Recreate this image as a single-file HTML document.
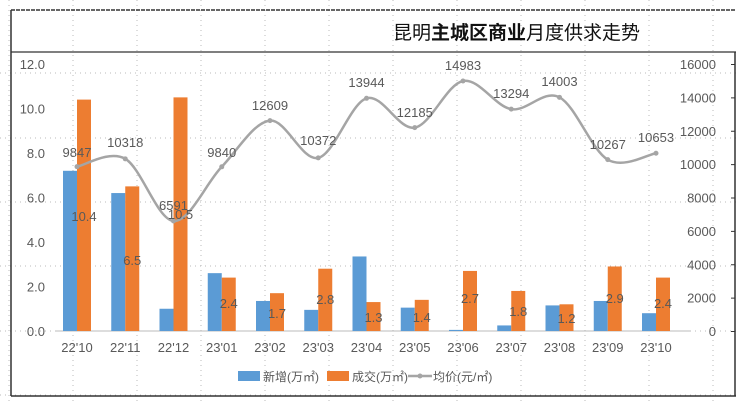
<!DOCTYPE html>
<html><head><meta charset="utf-8"><style>
body{margin:0;background:#fff;width:740px;height:402px;overflow:hidden}
svg{display:block;font-family:"Liberation Sans","Noto Sans CJK SC",sans-serif}
</style></head><body>
<svg id="s" width="740" height="402" xmlns="http://www.w3.org/2000/svg">
<g id="grid" stroke="#bbb" stroke-width="1" stroke-dasharray="1,4"></g>
<line x1="11" y1="10" x2="736" y2="10" stroke="#333" stroke-width="1.5" stroke-dasharray="4,1"/>
<line x1="11" y1="10" x2="11" y2="396" stroke="#333" stroke-width="1.5"/>
<line x1="735" y1="52" x2="735" y2="396" stroke="#333" stroke-width="1.5"/>
<line x1="11" y1="52" x2="736" y2="52" stroke="#333" stroke-width="1.2"/>
<line x1="11" y1="396" x2="736" y2="396" stroke="#333" stroke-width="1.5"/>
<text x="393" y="39" font-size="19" fill="#111">昆明<tspan font-weight="bold">主城区商业</tspan>月度供求走势</text>
<line x1="55" y1="331" x2="690" y2="331" stroke="#bbb" stroke-width="1"/>
<g id="bars"></g><g id="line"></g><g id="lab" font-size="13" fill="#595959"></g>
<g font-size="12" fill="#595959">
<rect x="238" y="371" width="22" height="10" fill="#5b9bd5"/><text x="263" y="381">新增(万㎡)</text>
<rect x="327" y="371" width="22" height="10" fill="#ed7d31"/><text x="352" y="381">成交(万㎡)</text>
<line x1="408" y1="376" x2="432" y2="376" stroke="#a5a5a5" stroke-width="2.5"/><circle cx="420" cy="376" r="2.5" fill="#a5a5a5"/>
<text x="433" y="381">均价(元/㎡)</text>
</g>
</svg>
<script>
var NS="http://www.w3.org/2000/svg",s=document.getElementById('s');
function el(p,t,a,txt){var e=document.createElementNS(NS,t);for(var k in a)e.setAttribute(k,a[k]);if(txt!=null)e.textContent=txt;document.getElementById(p).appendChild(e);return e;}
for(var x=9;x<740;x+=64)el('grid','line',{x1:x,y1:0,x2:x,y2:402});
[73,138,202,266,331,395].forEach(function(y){el('grid','line',{x1:0,y1:y,x2:740,y2:y});});
var cats=["22'10","22'11","22'12","23'01","23'02","23'03","23'04","23'05","23'06","23'07","23'08","23'09","23'10"];
var b=[7.2,6.2,1.0,2.6,1.35,0.95,3.35,1.05,0.05,0.25,1.15,1.35,0.8];
var o=[10.4,6.5,10.5,2.4,1.7,2.8,1.3,1.4,2.7,1.8,1.2,2.9,2.4];
var p=[9847,10318,6591,9840,12609,10372,13944,12185,14983,13294,14003,10267,10653];
var ply=[152,142,205,152,105,140,82,112,65,93,81,144,137];
var oly=[216,260,214,303,313,299,317,317,298,311,318,298,303];
function cx(i){return 77+i*48.25;}
function yl(v){return 331-v*22.25;}
function yr(v){return 331-v/16000*267;}
for(var i=0;i<13;i++){
 var c=cx(i);
 el('bars','rect',{x:c-14,y:yl(b[i]),width:14,height:331-yl(b[i]),fill:'#5b9bd5'});
 el('bars','rect',{x:c,y:yl(o[i]),width:14,height:331-yl(o[i]),fill:'#ed7d31'});
 el('lab','text',{x:c,y:352,'text-anchor':'middle'},cats[i]);
 el('lab','text',{x:c+7,y:oly[i]+5,'text-anchor':'middle'},o[i].toFixed(1));
 el('lab','text',{x:c,y:ply[i]+5,'text-anchor':'middle'},p[i]);
}
for(var k=0;k<=6;k++){el('lab','text',{x:45,y:yl(k*2)+5,'text-anchor':'end'},(k*2).toFixed(1));}
for(var k=0;k<=8;k++){el('lab','text',{x:716,y:yr(k*2000)+5,'text-anchor':'end'},k*2000);el('lab','line',{x1:731,y1:yr(k*2000)+0.5,x2:735,y2:yr(k*2000)+0.5,stroke:'#333'});}
var pts=p.map(function(v,i){return [cx(i),yr(v)];});
var d="M"+pts[0][0]+","+pts[0][1];
for(var i=0;i<12;i++){var p0=pts[Math.max(i-1,0)],p1=pts[i],p2=pts[i+1],p3=pts[Math.min(i+2,12)];
 d+=" C"+(p1[0]+(p2[0]-p0[0])/6)+","+(p1[1]+(p2[1]-p0[1])/6)+" "+(p2[0]-(p3[0]-p1[0])/6)+","+(p2[1]-(p3[1]-p1[1])/6)+" "+p2[0]+","+p2[1];}
el('line','path',{d:d,fill:'none',stroke:'#a5a5a5','stroke-width':2.5});
pts.forEach(function(q){el('line','circle',{cx:q[0],cy:q[1],r:2.5,fill:'#a5a5a5'});});
</script>
</body></html>
